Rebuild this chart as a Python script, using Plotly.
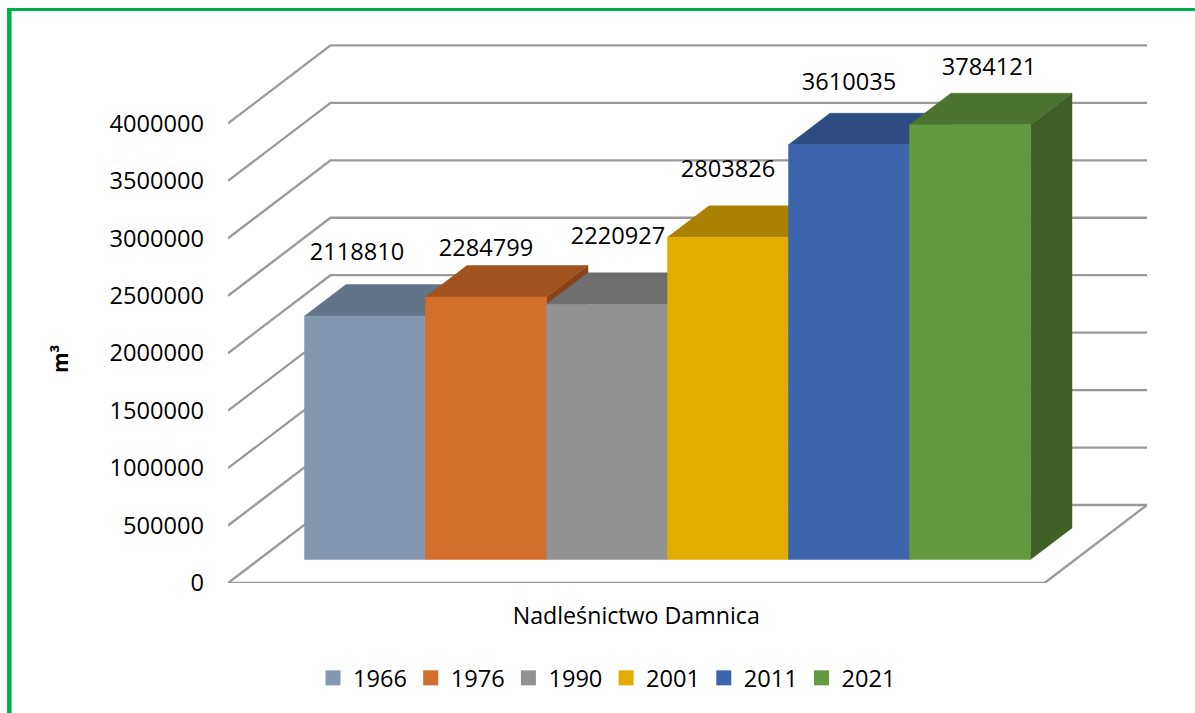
import plotly.graph_objects as go

# ---- data ----
years = ["1966", "1976", "1990", "2001", "2011", "2021"]
values = [2118810, 2284799, 2220927, 2803826, 3610035, 3784121]
y_ticks = [0, 500000, 1000000, 1500000, 2000000, 2500000, 3000000, 3500000, 4000000]
category = "Nadleśnictwo Damnica"
y_title = "m³"

# ---- face colours ----
front = ["#8497B0", "#D26F2C", "#929292", "#E3AC00", "#3C65AD", "#629A3F"]
top = ["#637489", "#A0521F", "#6E6E6E", "#AA8100", "#2C4C82", "#4B732F"]
side = ["#55637A", "#86441A", "#5E5E5E", "#917000", "#264170", "#416028"]

# ---- oblique projection, in axis units ----
PX_W, PX_H = 919, 540
BAR_PX = 121
Y_MAX = 4700000
PX_X = 1 / BAR_PX
PX_Y = Y_MAX / PX_H
X_MAX = PX_W * PX_X
WALL_DX, WALL_DY = 102.5 * PX_X, 78 * PX_Y
FLOOR_W = X_MAX - WALL_DX
BAR_X0, BAR_BASE = 76.5 * PX_X, 23.5 * PX_Y
BAR_DX, BAR_DY = 41.5 * PX_X, 31.5 * PX_Y
LABEL_OFF = [(-8, 61.5), (0, 47), (11, 66), (0, 66.5), (0, 60.5), (19, 55.5)]
FONT = "Open Sans"
FS = 23.6

fig = go.Figure()

# walls and floor
gx, gy = [], []
for t in y_ticks:
    gx += [0, WALL_DX, X_MAX, None]
    gy += [t, t + WALL_DY, t + WALL_DY, None]
gx += [0, FLOOR_W, X_MAX]
gy += [0, 0, WALL_DY]
fig.add_trace(go.Scatter(x=gx, y=gy, mode="lines", line=dict(color="#999999", width=2.3),
                         showlegend=False, hoverinfo="skip", cliponaxis=False))

# boxes, painted from left to right
for i, (yr, v) in enumerate(zip(years, values)):
    x0 = BAR_X0 + i
    x1 = x0 + 1
    b, h = BAR_BASE, BAR_BASE + v
    faces = [
        ([x1, x1 + BAR_DX, x1 + BAR_DX, x1, x1], [b, b + BAR_DY, h + BAR_DY, h, b], side[i]),
        ([x0, x1, x1 + BAR_DX, x0 + BAR_DX, x0], [h, h, h + BAR_DY, h + BAR_DY, h], top[i]),
        ([x0, x1, x1, x0, x0], [b, b, h, h, b], front[i]),
    ]
    for fx, fy, c in faces:
        fig.add_trace(go.Scatter(x=fx, y=fy, mode="lines", fill="toself", fillcolor=c,
                                 line=dict(color=c, width=0.5), legendgroup=yr,
                                 showlegend=False, hoverinfo="skip", cliponaxis=False))

# data labels
lx = [BAR_X0 + i + 0.5 + off[0] * PX_X for i, off in enumerate(LABEL_OFF)]
ly = [BAR_BASE + v + off[1] * PX_Y for v, off in zip(values, LABEL_OFF)]
fig.add_trace(go.Scatter(x=lx, y=ly, mode="text", text=[str(v) for v in values],
                         textposition="middle center",
                         textfont=dict(family=FONT, size=FS, color="#000000"),
                         showlegend=False, hoverinfo="skip", cliponaxis=False))

# legend entries
for yr, c in zip(years, front):
    fig.add_trace(go.Scatter(x=[None], y=[None], mode="markers", name=yr, legendgroup=yr,
                             marker=dict(symbol="square", size=15, color=c)))

fig.update_layout(
    width=1195, height=713,
    margin=dict(l=228, r=48, t=43, b=130, autoexpand=False),
    paper_bgcolor="white", plot_bgcolor="white",
    font=dict(family=FONT, size=FS, color="#000000"),
    xaxis=dict(range=[0, X_MAX], tickmode="array", tickvals=[FLOOR_W / 2], ticktext=[category],
               showgrid=False, zeroline=False, showline=False, ticks="", ticklabelstandoff=17,
               tickfont=dict(family=FONT, size=23.2), fixedrange=True),
    yaxis=dict(range=[0, Y_MAX], tickmode="array", tickvals=y_ticks,
               ticktext=[str(t) for t in y_ticks],
               showgrid=False, zeroline=False, showline=False, ticks="", ticklabelstandoff=23,
               fixedrange=True),
    legend=dict(orientation="h", x=(313 - 228) / PX_W, xanchor="left",
                y=(583 - 678) / PX_H, yanchor="middle", font=dict(family=FONT, size=FS),
                entrywidth=52.7, entrywidthmode="pixels", itemclick=False, itemdoubleclick=False,
                bgcolor="rgba(0,0,0,0)"),
    annotations=[dict(text=f"<b>{y_title}</b>", textangle=-90, showarrow=False,
                      xref="paper", yref="paper", x=(60 - 228) / PX_W, y=(583 - 359) / PX_H,
                      xanchor="center", yanchor="middle", font=dict(family=FONT, size=21))],
    shapes=[
        dict(type="line", xref="paper", yref="paper", x0=(9.3 - 228) / PX_W, x1=(9.3 - 228) / PX_W,
             y0=(583 - 8) / PX_H, y1=(583 - 713) / PX_H, line=dict(color="#00B050", width=4.5)),
        dict(type="line", xref="paper", yref="paper", x0=(7 - 228) / PX_W, x1=(1195 - 228) / PX_W,
             y0=(583 - 9.5) / PX_H, y1=(583 - 9.5) / PX_H, line=dict(color="#00B050", width=3)),
    ],
)

fig.write_html("out.html", config={"displayModeBar": False},
               post_script="document.body.style.margin='0';")
